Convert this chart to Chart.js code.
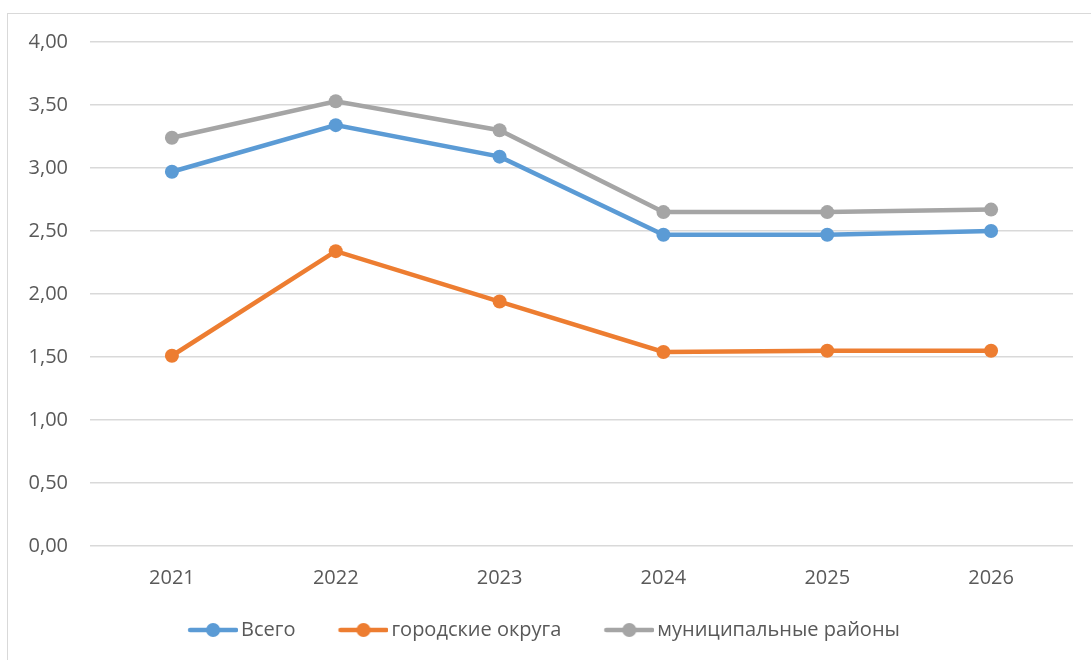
<html>
<head>
    <title>chart</title>
    <style>
        body { margin: 0; background: #fff; font-family: "Open Sans"; }
        #frame {
            position: absolute; left: 7px; top: 13px; width: 1200px; height: 800px;
            border-left: 1px solid #d9d9d9; border-top: 1px solid #d9d9d9;
        }
        #wrap { position: absolute; left: 0; top: 0; width: 1091px; height: 660px; }
    </style>
</head>
<body>
<div id="frame"></div>
<div id="wrap"><canvas id="chart"></canvas></div>

<script src="https://cdn.jsdelivr.net/npm/chart.js@4/dist/chart.umd.min.js"></script>
<script>
    const years = ['2021', '2022', '2023', '2024', '2025', '2026'];
    const vsego = [2.97, 3.34, 3.09, 2.47, 2.47, 2.50];
    const gorodskie = [1.51, 2.34, 1.94, 1.54, 1.55, 1.55];
    const municipalnye = [3.24, 3.53, 3.30, 2.65, 2.65, 2.67];
    const series_names = ['Всего', 'городские округа', 'муниципальные районы'];
    const colors = ['#5B9BD5', '#ED7D31', '#A5A5A5'];

    // legend marker: line with a dot in the middle, like in Excel
    // (drawn in the right part of the image so the text sits close to it)
    function legend_marker(color) {
        const c = document.createElement('canvas');
        c.width = 72; c.height = 16;
        const ctx = c.getContext('2d');
        ctx.strokeStyle = color;
        ctx.lineWidth = 4.5;
        ctx.lineCap = 'round';
        ctx.beginPath();
        ctx.moveTo(24, 8); ctx.lineTo(70, 8);
        ctx.stroke();
        ctx.fillStyle = color;
        ctx.beginPath();
        ctx.arc(47, 8, 7, 0, Math.PI * 2);
        ctx.fill();
        return c;
    }

    const all_data = [vsego, gorodskie, municipalnye];
    const datasets = all_data.map(function (d, i) {
        return {
            label: series_names[i],
            data: d,
            borderColor: colors[i],
            backgroundColor: colors[i],
            borderWidth: 4.5,
            pointRadius: 7,
            pointHoverRadius: 7,
            pointBackgroundColor: colors[i],
            pointBorderWidth: 0,
            tension: 0
        };
    });

    const tick_font = { family: 'Open Sans', size: 20 };

    new Chart(document.getElementById('chart'), {
        type: 'line',
        data: { labels: years, datasets: datasets },
        options: {
            responsive: true,
            maintainAspectRatio: false,
            animation: false,
            layout: { padding: { top: 42, right: 18, left: 0, bottom: 10 } },
            plugins: {
                tooltip: { enabled: false },
                legend: {
                    position: 'bottom',
                    labels: {
                        color: '#595959',
                        font: tick_font,
                        usePointStyle: true,
                        pointStyleWidth: 58,
                        padding: 28,
                        generateLabels: function (chart) {
                            return chart.data.datasets.map(function (ds, i) {
                                return {
                                    text: ds.label,
                                    pointStyle: legend_marker(colors[i]),
                                    fillStyle: colors[i],
                                    strokeStyle: colors[i],
                                    lineWidth: 0,
                                    datasetIndex: i,
                                    fontColor: '#595959'
                                };
                            });
                        }
                    }
                }
            },
            scales: {
                x: {
                    offset: true,
                    grid: { display: false, drawTicks: false },
                    border: { display: false },
                    ticks: { color: '#595959', font: tick_font, padding: 20 },
                    afterFit: function (s) { s.height = 46; }
                },
                y: {
                    min: 0,
                    max: 4,
                    grid: { color: '#d9d9d9', lineWidth: 1.5, drawTicks: false },
                    border: { display: false },
                    ticks: {
                        stepSize: 0.5,
                        color: '#595959',
                        font: tick_font,
                        padding: 22,
                        callback: function (v) { return v.toFixed(2).replace('.', ','); }
                    },
                    afterFit: function (s) { s.width = 90; }
                }
            }
        }
    });
</script>
</body>
</html>
